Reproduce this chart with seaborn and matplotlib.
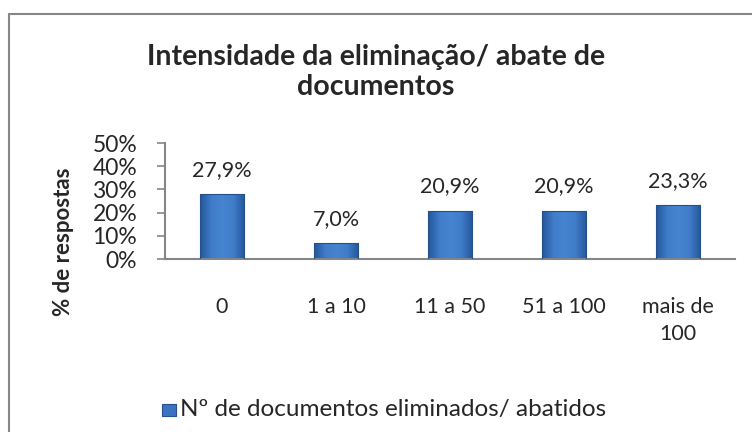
import numpy as np
import pandas as pd
import seaborn as sns
import matplotlib.pyplot as plt
from matplotlib.patches import Rectangle
from matplotlib.lines import Line2D

categorias = ["0", "1 a 10", "11 a 50", "51 a 100", "mais de\n100"]
percentagens = [27.9, 7.0, 20.9, 20.9, 23.3]
rotulos = ["27,9%", "7,0%", "20,9%", "20,9%", "23,3%"]
y_ticks = [0, 10, 20, 30, 40, 50]
serie = "Nº de documentos eliminados/ abatidos"

df = pd.DataFrame({"categoria": categorias, "pct": percentagens})

sns.set_style("white")
plt.rcParams['font.family'] = ['Lato', 'DejaVu Sans']

W, H = 752, 432
fig = plt.figure(figsize=(W / 100, H / 100), dpi=100)
ax = fig.add_axes([165 / W, 1 - 259 / H, 570 / W, 116 / H])

sns.barplot(data=df, x="categoria", y="pct", color="#3b73c0", width=0.39,
            edgecolor="#24508c", linewidth=0.8, saturation=1, ax=ax)

# bevel look: darker sides, lighter middle
grad = np.linspace(0, 1, 64).reshape(1, -1)
cmap = sns.blend_palette(["#24579a", "#3f7cc9", "#4684d0", "#3f7cc9", "#24579a"], as_cmap=True)
for p in ax.patches:
    x0, y0 = p.get_x(), p.get_y()
    w, h = p.get_width(), p.get_height()
    im = ax.imshow(np.vstack([grad, grad]), extent=[x0, x0 + w, y0, y0 + h],
                   cmap=cmap, aspect="auto", zorder=2)
    im.set_clip_path(p)
    p.set_zorder(3)
    p.set_facecolor("none")

for i, (v, lab) in enumerate(zip(percentagens, rotulos)):
    ax.text(i, v + 7.8, lab, ha="center", va="baseline", fontsize=15.5)

ax.set_xlim(-0.5, len(categorias) - 0.5)
ax.set_ylim(0, 50)
ax.set_yticks(y_ticks)
ax.set_yticklabels([f"{t}%" for t in y_ticks], fontsize=16.5)
ax.tick_params(axis="y", which="major", left=True, length=6, width=1.2, color="#868686", pad=14)
ax.tick_params(axis="x", bottom=False, labelsize=15.5, pad=24)
for lab in ax.get_xticklabels():
    lab.set_linespacing(1.45)
ax.set_xlabel("")
ax.set_ylabel("% de respostas", fontsize=16, fontweight="bold")
ax.yaxis.set_label_coords(-0.16, 0.15)

for s in ["top", "right"]:
    ax.spines[s].set_visible(False)
for s in ["left", "bottom"]:
    ax.spines[s].set_color("#868686")
    ax.spines[s].set_linewidth(1.5)

fig.text(0.5, 1 - 72 / H, "Intensidade da eliminação/ abate de\ndocumentos", ha="center",
         va="center", fontsize=20.5, fontweight="bold", linespacing=1.15)

# legend
fig.patches.append(Rectangle((162 / W, 1 - 416 / H), 14 / W, 12 / H,
                             transform=fig.transFigure, facecolor="#3b73c0",
                             edgecolor="#24508c", linewidth=0.8))
fig.text(180 / W, 1 - 416 / H, serie, ha="left", va="baseline", fontsize=17.5)

# chart border (top and left edges fall inside the picture)
fig.lines.append(Line2D([9 / W, 1], [1 - 14 / H, 1 - 14 / H], transform=fig.transFigure,
                        color="#868686", linewidth=1.5))
fig.lines.append(Line2D([9 / W, 9 / W], [0, 1 - 14 / H], transform=fig.transFigure,
                        color="#868686", linewidth=1.5))

fig.savefig("out.png", dpi=100)
